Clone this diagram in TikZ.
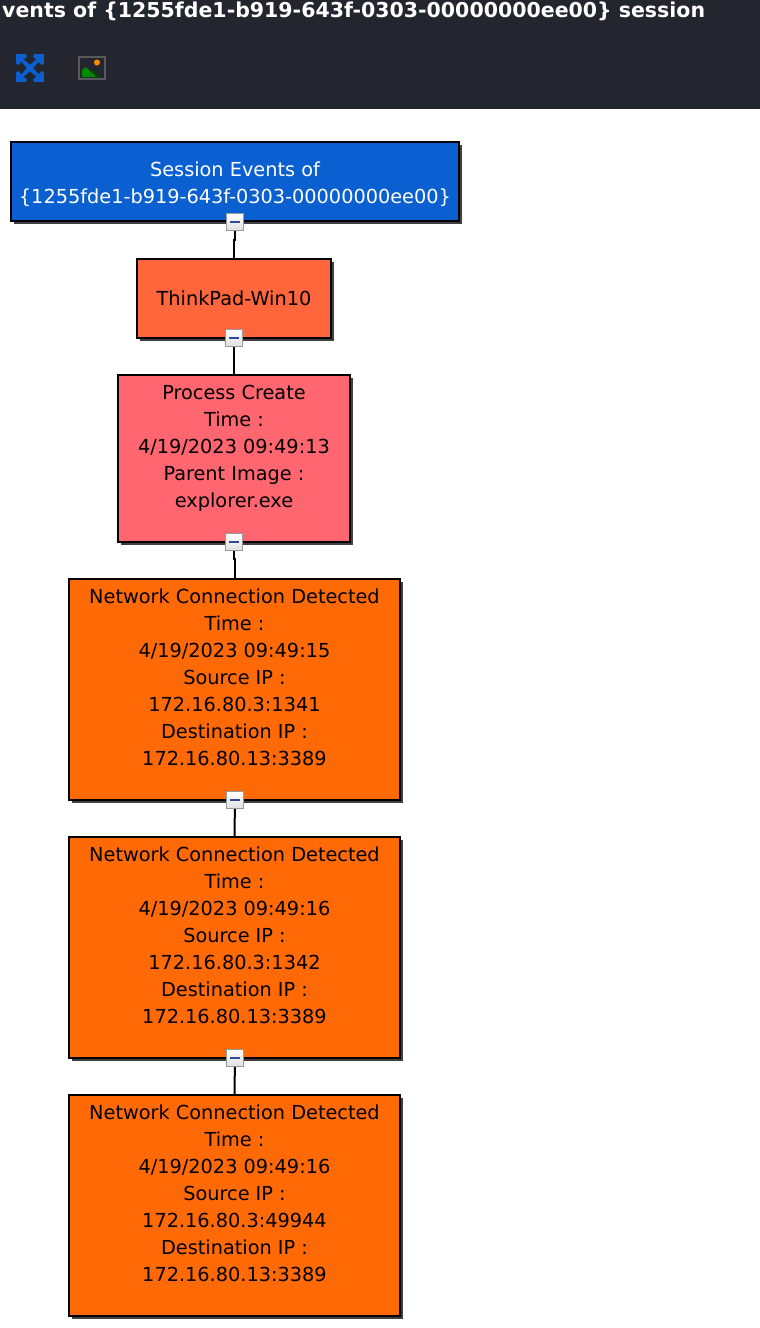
\documentclass[tikz,border=0pt]{standalone}
\usepackage{fontspec}
\setmainfont{DejaVu Sans}
\usetikzlibrary{shadows}
\definecolor{headbg}{HTML}{23262F}
\definecolor{sessblue}{HTML}{0A60D0}
\definecolor{hostred}{HTML}{FF663C}
\definecolor{procred}{HTML}{FF6670}
\definecolor{netorange}{HTML}{FF6A07}
\definecolor{btnblue}{HTML}{34479A}
\tikzset{
    eventbox/.style={draw=black, line width=2pt, align=center, inner sep=0pt,
        font=\fontsize{19.3}{27}\selectfont, text=black,
        drop shadow={shadow xshift=2.5pt, shadow yshift=-2.5pt, fill=black, opacity=.75}},
    collapsebtn/.style={draw=gray!80, line width=1pt, minimum size=17pt, inner sep=0pt,
        top color=white, bottom color=gray!25},
    minusbar/.style={fill=btnblue, draw=none, minimum width=10pt, minimum height=2.5pt, inner sep=0pt},
    link/.style={draw=black, line width=2pt}
}
\begin{document}
\begin{tikzpicture}[x=1pt, y=-1pt]
    \useasboundingbox (0,0) rectangle (760,1328);
    % header
    \fill[headbg] (0,0) rectangle (760,109);
    \node[anchor=west, inner sep=0pt, text=white, font=\fontsize{20.5}{24}\selectfont\bfseries] (title)
        at (2,11) {vents of \{1255fde1-b919-643f-0303-00000000ee00\} session};
    % toolbar icons
    \fill[sessblue] (16,54) rectangle (44,82);
    \foreach \ang in {0,90,180,270}
        \fill[headbg, rotate around={\ang:(30,68)}] (26,54) -- (34,54) -- (33,56.5) -- (36,59.5)
            -- (30,64.5) -- (24,59.5) -- (27,56.5) -- cycle;
    \draw[draw=gray!70!black, line width=1.5pt] (79,57) rectangle (105,79);
    \fill[green!30!black] (90,72) -- (93,70) -- (100,77) -- (94,77) -- cycle;
    \fill[green!55!black] (82,77) -- (82,70) -- (86,67) -- (95,76) -- (95,77) -- cycle;
    \fill[orange!90!yellow] (97,62.5) circle (3);
    % event boxes
    \node[eventbox, fill=sessblue, text=white, minimum width=448pt, minimum height=79pt] (session)
        at (235,181.5) {\raisebox{-8pt}[0pt][0pt]{Session Events of}\\\raisebox{-8pt}[0pt][0pt]{\{1255fde1-b919-643f-0303-00000000ee00\}}};
    \node[eventbox, fill=hostred, minimum width=194pt, minimum height=79pt] (host)
        at (234,298.5) {ThinkPad-Win10};
    \node[eventbox, fill=procred, minimum width=232pt, minimum height=167pt] (proc)
        at (234,458.5) {Process Create\\Time :\\4/19/2023 09:49:13\\Parent Image :\\explorer.exe\\[-3pt]~};
    \node[eventbox, fill=netorange, minimum width=331pt, minimum height=221pt] (netA)
        at (234.5,689.5) {Network Connection Detected\\Time :\\4/19/2023 09:49:15\\Source IP :\\172.16.80.3:1341\\Destination IP :\\172.16.80.13:3389\\[-3pt]~};
    \node[eventbox, fill=netorange, minimum width=331pt, minimum height=221pt] (netB)
        at (234.5,947.5) {Network Connection Detected\\Time :\\4/19/2023 09:49:16\\Source IP :\\172.16.80.3:1342\\Destination IP :\\172.16.80.13:3389\\[-3pt]~};
    \node[eventbox, fill=netorange, minimum width=331pt, minimum height=221pt] (netC)
        at (234.5,1205.5) {Network Connection Detected\\Time :\\4/19/2023 09:49:16\\Source IP :\\172.16.80.3:49944\\Destination IP :\\172.16.80.13:3389\\[-3pt]~};
    % links
    \draw[link] (235,222) coordinate (btnAc) -- ++(0,18) -| (host.north);
    \draw[link] (234,338) coordinate (btnBc) -- (proc.north);
    \draw[link] (234,542) coordinate (btnCc) -- ++(0,17) -| (netA.north);
    \draw[link] (235,800) coordinate (btnDc) -- (netB.north);
    \draw[link] (235,1058) coordinate (btnEc) -- (netC.north);
    % collapse buttons
    \foreach \name/\at in {btnA/btnAc, btnB/btnBc, btnC/btnCc, btnD/btnDc, btnE/btnEc} {
        \node[collapsebtn] (\name) at (\at) {};
        \node[minusbar] (\name bar) at (\at) {};
    }
\end{tikzpicture}
\end{document}
